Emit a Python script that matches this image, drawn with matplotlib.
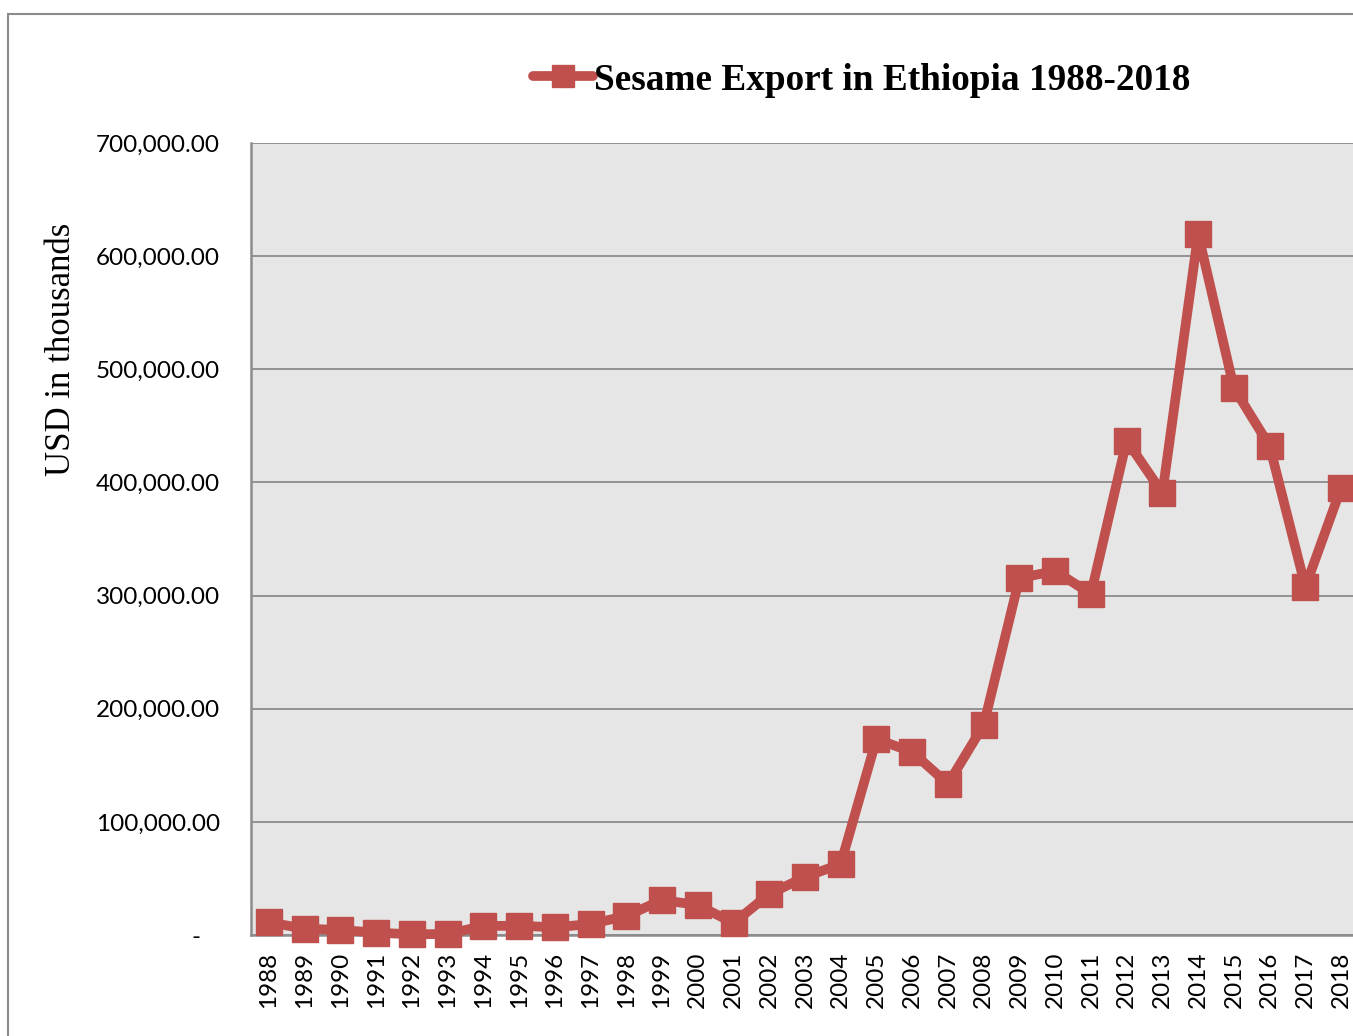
import matplotlib
matplotlib.use("Agg")
import matplotlib.pyplot as plt
from matplotlib.patches import Rectangle
from matplotlib.ticker import FuncFormatter

years = [str(y) for y in range(1988, 2019)]
export_usd_thousands = [11200, 5600, 4400, 2100, 600, 900, 8000, 8200, 6800, 9700,
                        16800, 30900, 26500, 10600, 36200, 51300, 62700, 173200, 161700, 133500,
                        185600, 315500, 321700, 301400, 437000, 390700, 619500, 483400, 432200, 307700,
                        395100]
yticks = [0, 100000, 200000, 300000, 400000, 500000, 600000, 700000]

W, H = 1353, 1036
fig = plt.figure(figsize=(W / 100, H / 100), dpi=100)

# outer chart border
fig.add_artist(Rectangle((8 / W, -0.05), 1.2, 1 - 14 / H + 0.05, transform=fig.transFigure,
                         fill=False, edgecolor="#8a8a8a", linewidth=1.5))

left, right, bottom, top = 251, 1359, 935, 143
ax = fig.add_axes([left / W, 1 - bottom / H, (right - left) / W, (bottom - top) / H])
ax.set_facecolor("#e6e6e6")
x = list(range(len(years)))
ax.plot(x, export_usd_thousands, color="#c0504d", linewidth=7, marker="s", markersize=19,
        markeredgecolor="#c0504d", solid_joinstyle="round", solid_capstyle="round",
        label="Sesame Export in Ethiopia 1988-2018", clip_on=False, zorder=3)
ax.set_xlim(-0.5, len(years) - 0.5)
ax.set_ylim(0, 700000)
ax.set_yticks(yticks)
ax.yaxis.set_major_formatter(FuncFormatter(lambda v, p: "-   " if v == 0 else f"{v:,.2f}"))
ax.set_xticks(x)
ax.set_xticklabels(years, rotation=90)
ax.grid(axis="y", color="#8c8c8c", linewidth=1.3)
ax.set_axisbelow(True)
for s in ["top", "right"]:
    ax.spines[s].set_visible(False)
for s in ["left", "bottom"]:
    ax.spines[s].set_color("#8c8c8c")
    ax.spines[s].set_linewidth(1.8)
ax.tick_params(axis="both", length=0, labelsize=17.5, colors="black")
ax.tick_params(axis="x", pad=12)
ax.tick_params(axis="y", pad=22.5)
for lab in ax.get_xticklabels() + ax.get_yticklabels():
    lab.set_fontfamily("Lato")

fig.text(62 / W, 1 - 349 / H, "USD in thousands", rotation=90, va="center", ha="center",
         fontsize=25, family="Liberation Serif")

leg = ax.legend(loc="center left", bbox_to_anchor=(533 / W, 1 - 80 / H), bbox_transform=fig.transFigure,
                frameon=False, handlelength=1.6, handletextpad=0.05, borderaxespad=0, borderpad=0,
                prop={"family": "Liberation Serif", "weight": "bold", "size": 26.8})
for h in leg.legend_handles:
    h.set_markersize(16.5)

fig.savefig("out.png", dpi=100)
